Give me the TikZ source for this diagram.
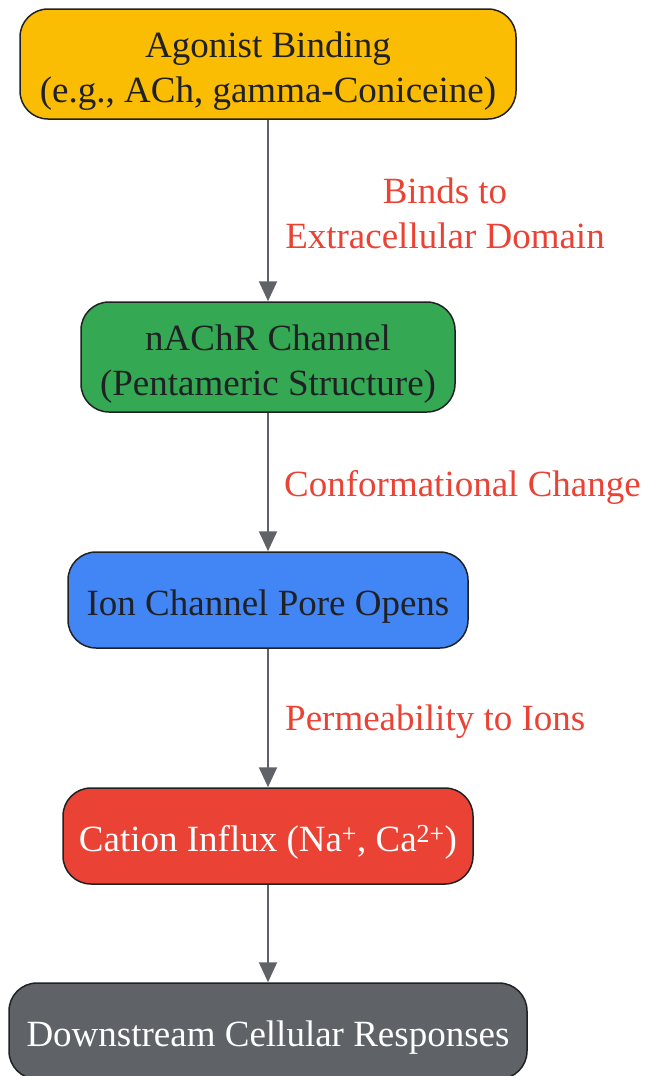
\documentclass[tikz,border=0pt]{standalone}
\usepackage{fontspec}
\setmainfont{Liberation Serif}
\usepackage{tikz}
\usetikzlibrary{arrows.meta}
\definecolor{gyellow}{HTML}{FBBC04}
\definecolor{ggreen}{HTML}{34A853}
\definecolor{gblue}{HTML}{4285F4}
\definecolor{gred}{HTML}{EA4335}
\definecolor{ggrey}{HTML}{5F6368}
\definecolor{gdark}{HTML}{202124}
\newcommand{\boxstrut}{\rule{0pt}{39pt}}
\tikzstyle{flowbox} = [draw=gdark, line width=1.5pt, rounded corners=28pt, align=center, text=gdark, font=\fontsize{37}{45}\selectfont, minimum height=96pt, inner sep=0pt]
\tikzstyle{flowlabel} = [text=gred, align=center, font=\fontsize{37}{45}\selectfont, inner sep=0pt]
\tikzstyle{flowarrow} = [-{Triangle[length=20pt,width=18pt]}, line width=2pt, draw=ggrey]

\begin{document}
\begin{tikzpicture}[x=1pt,y=-1pt]
		\useasboundingbox (0,0) rectangle (646,1076);
		\node (agonist) [flowbox, fill=gyellow, minimum width=496pt, minimum height=110pt] at (268,64) {\boxstrut Agonist Binding\\(e.g., ACh, gamma-Coniceine)};
		\node (nachr) [flowbox, fill=ggreen, minimum width=374pt, minimum height=110pt] at (268,357) {\boxstrut nAChR Channel\\(Pentameric Structure)};
		\node (pore) [flowbox, fill=gblue, minimum width=400pt] at (268,600) {\boxstrut Ion Channel Pore Opens};
		\node (influx) [flowbox, fill=gred, text=white, minimum width=410pt] at (268,836) {\boxstrut Cation Influx (Na\textsuperscript{+}, Ca\textsuperscript{2+})};
		\node (response) [flowbox, fill=ggrey, text=white, minimum width=518pt] at (268,1031) {\boxstrut Downstream Cellular Responses};
		\node (bindslabel) [flowlabel] at (445,213) {Binds to\\Extracellular Domain};
		\node (conflabel) [flowlabel, anchor=west] at (284,487) {Conformational Change};
		\node (permlabel) [flowlabel, anchor=west] at (285,722) {Permeability to Ions};
		\draw [flowarrow] (agonist) -- (nachr);
		\draw [flowarrow] (nachr) -- (pore);
		\draw [flowarrow] (pore) -- (influx);
		\draw [flowarrow] (influx) -- (response);
	\end{tikzpicture}
\end{document}
